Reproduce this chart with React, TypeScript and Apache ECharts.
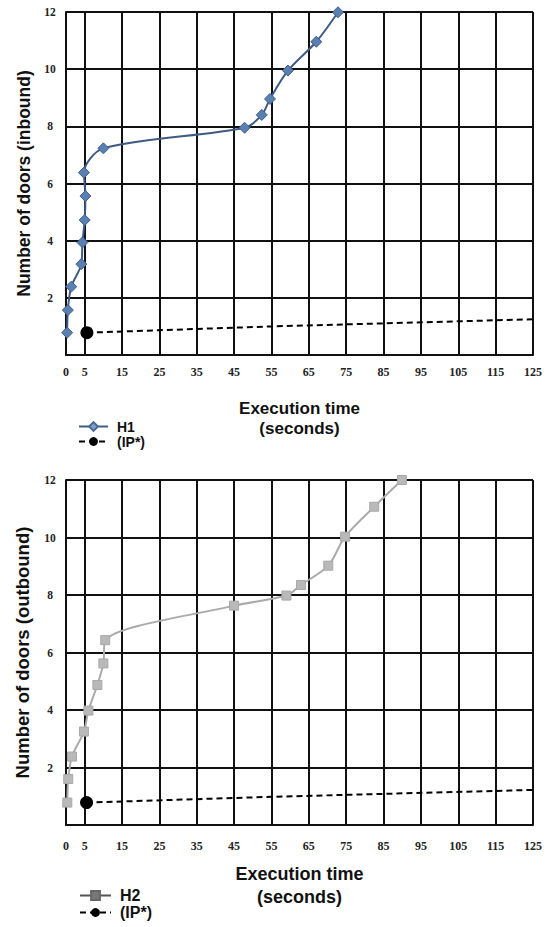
import React, { useEffect, useRef } from 'react';
import * as echarts from 'echarts';

// Tick labels
const xLabelValues = [0, 5, 15, 25, 35, 45, 55, 65, 75, 85, 95, 105, 115, 125];
const yLabelValues = [2, 4, 6, 8, 10, 12];

// Inbound (H1): [execution time (s), number of doors]
const h1Points = [
  [0.3, 0.78], [0.5, 1.57], [1.4, 2.39], [4.1, 3.18], [4.4, 3.94], [5.0, 4.72],
  [5.2, 5.56], [4.8, 6.38], [10.0, 7.23], [47.8, 7.95], [52.4, 8.4], [54.6, 8.96],
  [59.4, 9.95], [67.0, 10.96], [72.8, 11.99],
];
const ipInboundPoints = [[5.6, 0.78], [55, 1.0], [125, 1.25]];

// Outbound (H2)
const h2Points = [
  [0.35, 0.78], [0.6, 1.6], [1.6, 2.38], [4.8, 3.25], [6.0, 3.98], [8.4, 4.87],
  [10.0, 5.62], [10.5, 6.43], [45.0, 7.63], [59.0, 7.98], [62.9, 8.35], [70.2, 9.02],
  [74.7, 10.03], [82.5, 11.07], [89.9, 12.0],
];
const ipOutboundPoints = [[5.5, 0.78], [55, 0.98], [125, 1.22]];

const serif = "'Liberation Serif', 'Times New Roman', serif";
const sans = "'Liberation Sans', Arial, sans-serif";

function xAxisCfg(gridIndex: number, gap: number, lineHeight: number, fontSize: number, labelMargin: number) {
  return {
    type: 'value',
    gridIndex,
    min: 0,
    max: 125,
    name: 'Execution time\n(seconds)',
    nameLocation: 'middle',
    nameGap: gap,
    nameTextStyle: { fontFamily: sans, fontWeight: 'bold', fontSize, lineHeight, color: '#111', verticalAlign: 'top' },
    axisLine: { show: true, onZero: false, lineStyle: { color: '#111', width: 2 } },
    axisTick: { show: false, customValues: xLabelValues },
    axisLabel: { customValues: xLabelValues, fontFamily: serif, fontWeight: 'bold', fontSize: 12, color: '#222', margin: labelMargin },
    splitLine: { show: true, lineStyle: { color: '#111', width: 2 } },
  };
}

function yAxisCfg(gridIndex: number, name: string, gap: number, fontSize: number) {
  return {
    type: 'value',
    gridIndex,
    min: 0,
    max: 12,
    interval: 2,
    name,
    nameLocation: 'middle',
    nameGap: gap,
    nameRotate: 90,
    nameTextStyle: { fontFamily: sans, fontWeight: 'bold', fontSize, color: '#111' },
    axisLine: { show: true, lineStyle: { color: '#111', width: 2 } },
    axisTick: { show: false },
    axisLabel: {
      customValues: yLabelValues,
      fontFamily: serif, fontWeight: 'bold', fontSize: 11.5, color: '#222',
      align: 'center', margin: 16,
    },
    splitLine: { show: true, lineStyle: { color: '#111', width: 2 } },
  };
}

function ipSeries(points: number[][], axisIndex: number) {
  return {
    name: '(IP*)',
    type: 'line',
    xAxisIndex: axisIndex,
    yAxisIndex: axisIndex,
    symbol: 'circle',
    symbolSize: 13,
    itemStyle: { color: '#000' },
    lineStyle: { color: '#000', width: 2, type: [6, 4] },
    data: points.map((p, i) => (i === 0 ? { value: p } : { value: p, symbol: 'none' })),
    z: 3,
  };
}

export default function App() {
  const ref = useRef<HTMLDivElement>(null);
  useEffect(() => {
    document.body.style.margin = '0';
    if (!ref.current) return;
    const chart = echarts.init(ref.current, null, { renderer: 'svg' });
    chart.setOption({
      animation: false,
      backgroundColor: '#fff',
      grid: [
        { left: 66, top: 12, width: 467, height: 343 },
        { left: 66, top: 480, width: 467, height: 345 },
      ],
      xAxis: [xAxisCfg(0, 43, 20, 17, 11), xAxisCfg(1, 37, 23, 18, 15)],
      yAxis: [
        yAxisCfg(0, 'Number of doors (inbound)', 31, 17.5),
        yAxisCfg(1, 'Number of doors (outbound)', 34, 18.5),
      ],
      legend: [
        {
          orient: 'vertical', left: 78, top: 419, padding: 0, itemWidth: 29, itemHeight: 11, itemGap: 0,
          data: [{ name: 'H1', itemStyle: { color: '#7fa0c8', borderColor: '#4a6a96' } }, '(IP*)'],
          textStyle: { fontFamily: sans, fontWeight: 'bold', fontSize: 14, lineHeight: 15, color: '#111', padding: [0, 0, 0, 4] },
        },
        {
          orient: 'vertical', left: 79, top: 887, padding: 0, height: 40, itemWidth: 31, itemHeight: 11, itemGap: 0,
          data: [{ name: 'H2', itemStyle: { color: '#777', borderColor: '#666' }, lineStyle: { color: '#555' } }, '(IP*)'],
          textStyle: { fontFamily: sans, fontWeight: 'bold', fontSize: 16, lineHeight: 17, color: '#111', padding: [0, 0, 0, 4] },
        },
      ],
      series: [
        {
          name: 'H1',
          type: 'line',
          xAxisIndex: 0,
          yAxisIndex: 0,
          smooth: 0.3,
          symbol: 'diamond',
          symbolSize: 11,
          itemStyle: { color: '#5a80b2', borderColor: '#3f5f8c', borderWidth: 1 },
          lineStyle: { color: '#3f5b85', width: 2 },
          data: h1Points,
          z: 4,
        },
        ipSeries(ipInboundPoints, 0),
        {
          name: 'H2',
          type: 'line',
          xAxisIndex: 1,
          yAxisIndex: 1,
          smooth: 0.3,
          symbol: 'rect',
          symbolSize: 9,
          itemStyle: { color: '#b9b9b9', borderColor: '#a8a8a8', borderWidth: 1 },
          lineStyle: { color: '#aaaaaa', width: 2 },
          data: h2Points,
          z: 4,
        },
        ipSeries(ipOutboundPoints, 1),
      ],
    });
    return () => chart.dispose();
  }, []);
  return <div ref={ref} style={{ width: 552, height: 927 }} />;
}
